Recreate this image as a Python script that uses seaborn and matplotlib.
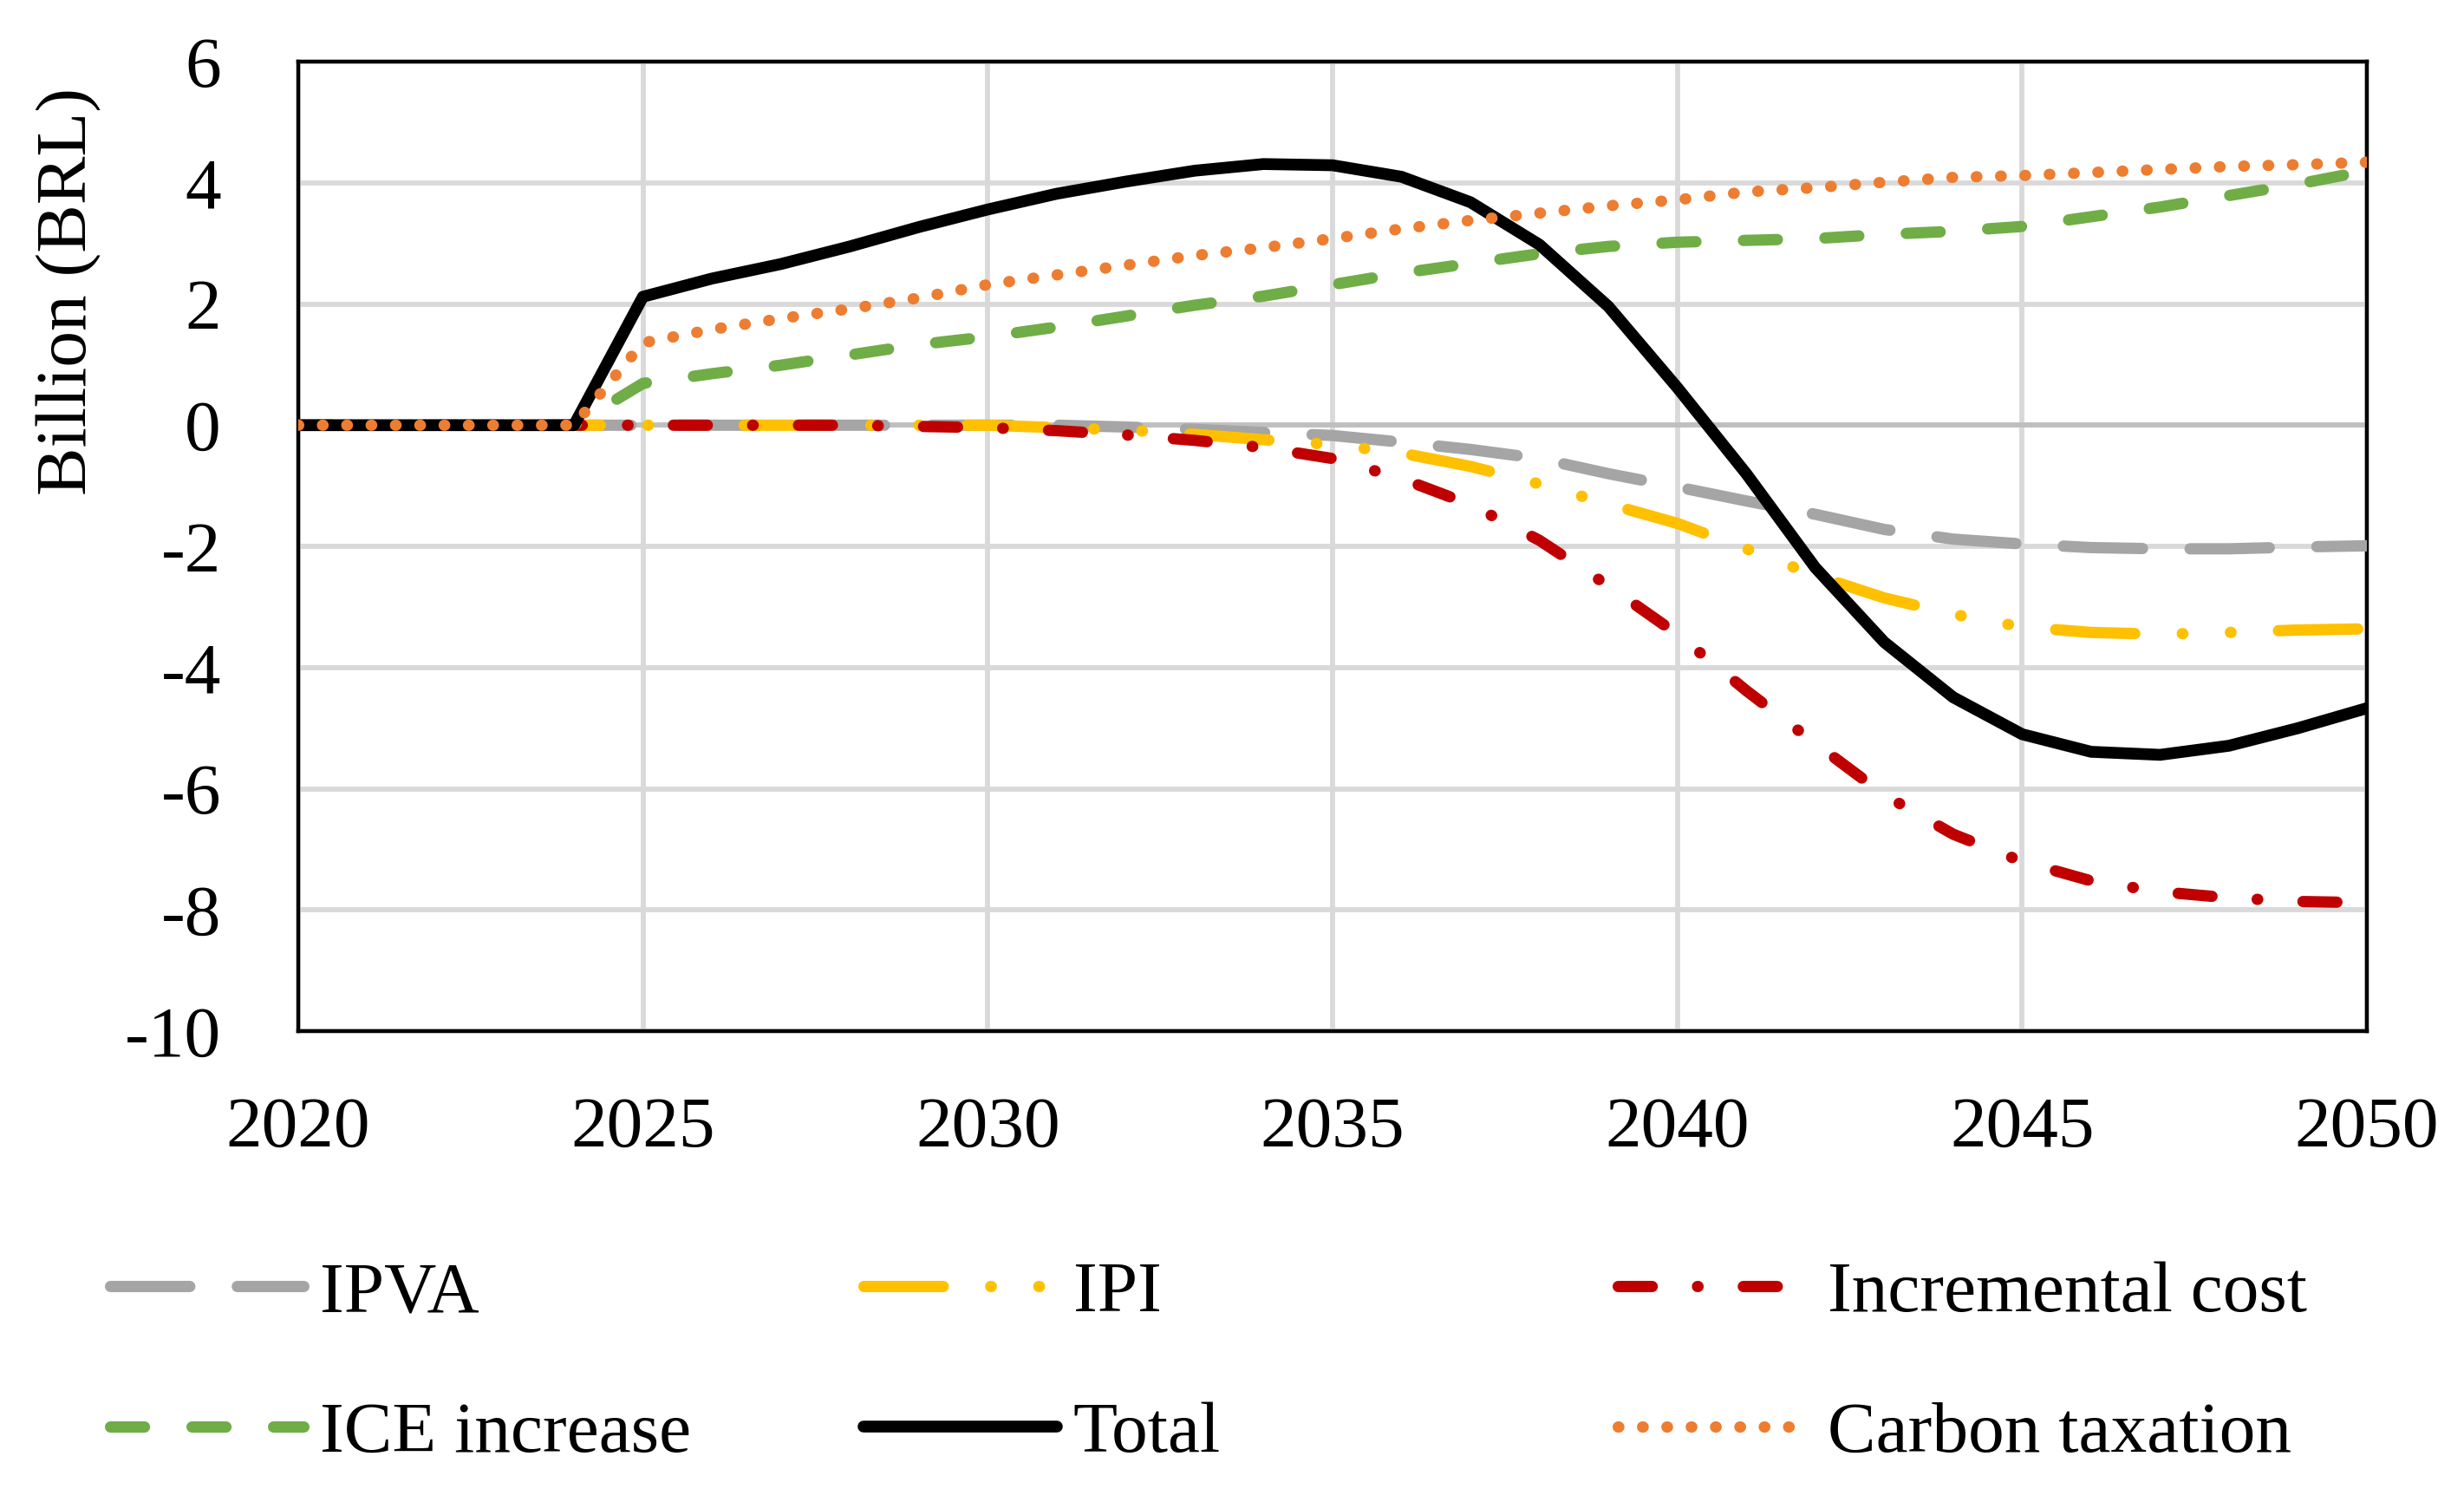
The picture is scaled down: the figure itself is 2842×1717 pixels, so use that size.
import pandas as pd
import seaborn as sns
import matplotlib.pyplot as plt

# years on the x axis
years = list(range(2020, 2051))

# series values (billion BRL)
ipva = [0, 0, 0, 0, 0, 0, 0, 0, 0, 0, 0, 0, -0.03, -0.07, -0.12, -0.17, -0.28, -0.4, -0.55,
        -0.8, -1.02, -1.25, -1.47, -1.72, -1.88, -1.96, -2.02, -2.04, -2.04, -2.01, -1.99]
ipi = [0, 0, 0, 0, 0, 0, 0, 0, 0, 0, 0, -0.04, -0.08, -0.15, -0.24, -0.32, -0.46, -0.68, -0.97,
       -1.3, -1.62, -2.04, -2.48, -2.85, -3.12, -3.33, -3.42, -3.45, -3.42, -3.38, -3.36]
incremental = [0, 0, 0, 0, 0, 0, 0, 0, 0, -0.02, -0.04, -0.09, -0.16, -0.25, -0.37, -0.55, -0.88,
               -1.31, -1.9, -2.65, -3.45, -4.38, -5.25, -6.1, -6.75, -7.2, -7.52, -7.7, -7.8, -7.86, -7.88]
ice_increase = [0, 0, 0, 0, 0, 0.69, 0.85, 0.99, 1.16, 1.33, 1.46, 1.62, 1.8, 1.98, 2.13, 2.32, 2.51,
                2.67, 2.83, 2.95, 3.02, 3.05, 3.08, 3.15, 3.2, 3.28, 3.44, 3.6, 3.79, 3.98, 4.2]
total = [0, 0, 0, 0, 0, 2.12, 2.42, 2.66, 2.95, 3.27, 3.56, 3.82, 4.02, 4.2, 4.31, 4.29, 4.1, 3.68,
         2.98, 1.96, 0.62, -0.8, -2.35, -3.58, -4.49, -5.1, -5.39, -5.44, -5.29, -5.0, -4.67]
carbon_tax = [0, 0, 0, 0, 0, 1.36, 1.58, 1.76, 1.92, 2.1, 2.32, 2.48, 2.64, 2.8, 2.93, 3.08, 3.24,
              3.38, 3.5, 3.62, 3.72, 3.85, 3.92, 4.01, 4.09, 4.12, 4.17, 4.22, 4.27, 4.3, 4.34]

names = ['IPVA', 'IPI', 'Incremental cost', 'ICE increase', 'Total', 'Carbon taxation']
values = [ipva, ipi, incremental, ice_increase, total, carbon_tax]
colors = ['#A5A5A5', '#FFC000', '#C00000', '#70AD47', '#000000', '#ED7D31']
dash_styles = [(7, 4.2), (7, 4.2, 0.05, 4.2, 0.05, 4.2), (3, 4, 0.05, 4), (3, 4.2), None, (0.05, 2.1)]

sns.set_style("white")
plt.rcParams['font.family'] = ['Liberation Serif', 'DejaVu Serif']
plt.rcParams['axes.unicode_minus'] = False
plt.rcParams['text.color'] = 'black'
plt.rcParams['axes.labelcolor'] = 'black'
plt.rcParams['xtick.color'] = 'black'
plt.rcParams['ytick.color'] = 'black'

fig = plt.figure(figsize=(14.21, 8.585), dpi=200)
ax = fig.add_axes([0.121, 0.3075, 0.9606 - 0.121, 0.9586 - 0.3075])

# draw each series
handles = []
for name, vals, col, dsh in zip(names, values, colors, dash_styles):
    df = pd.DataFrame({'year': years, 'value': vals})
    sns.lineplot(data=df, x='year', y='value', color=col, linewidth=4.9 if dsh is None else 4.7,
                 ax=ax, label=name, errorbar=None, zorder=3)
    line = ax.lines[-1]
    if dsh is not None:
        line.set_dashes(dsh)
        line.set_dash_capstyle('round')
    handles.append(line)

if ax.get_legend() is not None:
    ax.get_legend().remove()

# axes styling
ax.set_xlim(2020, 2050)
ax.set_ylim(-10, 6)
ax.set_xticks(range(2020, 2051, 5))
ax.set_yticks(range(-10, 7, 2))
ax.grid(True, color='#D9D9D9', linewidth=2.1)
ax.set_axisbelow(True)
ax.axhline(0, color='#BFBFBF', linewidth=2.1, zorder=1)
for sp in ax.spines.values():
    sp.set_visible(True)
    sp.set_color('black')
    sp.set_linewidth(1.6)
ax.tick_params(axis='x', length=0, pad=27, labelsize=30, labelcolor='black')
ax.tick_params(axis='y', length=0, pad=32, labelsize=30, labelcolor='black')
ax.set_xlabel('')
ax.set_ylabel('Billion (BRL)', fontsize=30, color='black')
ax.yaxis.set_label_coords(-0.095, 0.763)

# legend: three columns, two rows each
cols = [(0.0447, [0, 3]), (0.3505, [1, 4]), (0.6566, [2, 5])]
for xpos, idx in cols:
    leg = fig.legend([handles[i] for i in idx], [names[i] for i in idx], loc='center left',
                     bbox_to_anchor=(xpos, 0.0839), frameon=False, fontsize=30, borderpad=0,
                     borderaxespad=0, handlelength=2.68, handletextpad=0.22, labelspacing=1.03)
    for t in leg.get_texts():
        t.set_color('black')

fig.savefig('out.png', dpi=200)
